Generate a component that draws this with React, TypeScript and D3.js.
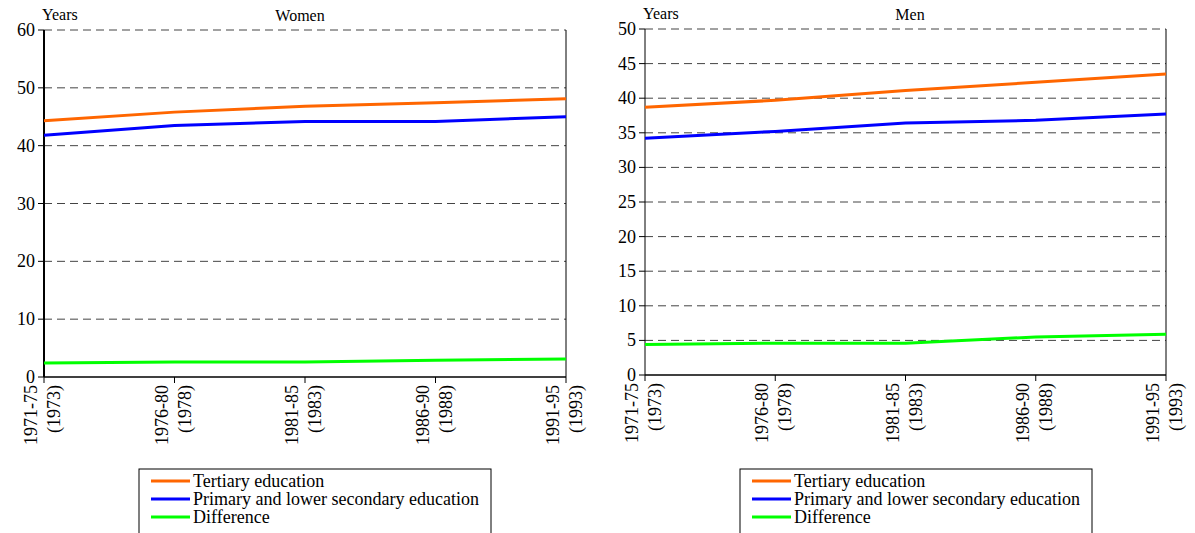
import React from "react";
import * as d3 from "d3";

const periods = ["1971-75", "1976-80", "1981-85", "1986-90", "1991-95"];
const midYears = ["(1973)", "(1978)", "(1983)", "(1988)", "(1993)"];

const womenTertiary = [44.3, 45.8, 46.8, 47.4, 48.1];
const womenPrimary = [41.8, 43.5, 44.2, 44.2, 45.0];
const womenDifference = [2.4, 2.6, 2.6, 2.9, 3.1];

const menTertiary = [38.7, 39.7, 41.1, 42.3, 43.5];
const menPrimary = [34.2, 35.2, 36.4, 36.8, 37.7];
const menDifference = [4.4, 4.6, 4.6, 5.5, 5.9];

const womenTicks = [0, 10, 20, 30, 40, 50, 60];
const menTicks = [0, 5, 10, 15, 20, 25, 30, 35, 40, 45, 50];

const seriesNames = ["Tertiary education", "Primary and lower secondary education", "Difference"];
const seriesColors = ["#FF6600", "#0000FF", "#00FF00"];

const FONT = "Liberation Serif, Times New Roman, DejaVu Serif, serif";
const ts: React.CSSProperties = { fontFamily: FONT };

type PanelProps = {
  title: string;
  titleX: number;
  x0: number;
  x1: number;
  yTop: number;
  yBottom: number;
  yMax: number;
  ticks: number[];
  series: number[][];
  axisWidth: number;
  legendX: number;
};

function Panel(p: PanelProps) {
  const x = d3.scalePoint<string>().domain(periods).range([p.x0, p.x1]);
  const y = d3.scaleLinear().domain([0, p.yMax]).range([p.yBottom, p.yTop]);
  const line = d3
    .line<number>()
    .x((_, i) => x(periods[i]) as number)
    .y((d) => y(d));

  return (
    <g fill="#000">
      {p.ticks
        .filter((t) => t !== 0)
        .map((t) => (
          <line
            key={"g" + t}
            x1={p.x0}
            x2={p.x1}
            y1={y(t)}
            y2={y(t)}
            stroke="#444"
            strokeWidth={1}
            strokeDasharray="8,5"
          />
        ))}
      <line x1={p.x1} x2={p.x1} y1={p.yTop} y2={p.yBottom} stroke="#000" strokeWidth={1} />
      <line x1={p.x0} x2={p.x1} y1={p.yBottom} y2={p.yBottom} stroke="#000" strokeWidth={1.5} />
      <line x1={p.x0} x2={p.x0} y1={p.yTop} y2={p.yBottom} stroke="#000" strokeWidth={p.axisWidth} />
      {p.ticks.map((t) => (
        <g key={"yt" + t}>
          <line x1={p.x0 - 6} x2={p.x0} y1={y(t)} y2={y(t)} stroke="#000" strokeWidth={1} />
          <text x={p.x0 - 9} y={y(t) + 6} textAnchor="end" fontSize={18} style={ts}>
            {t}
          </text>
        </g>
      ))}
      {periods.map((c, i) => {
        const xx = x(c) as number;
        return (
          <g key={"xt" + c}>
            <line x1={xx} x2={xx} y1={p.yBottom} y2={p.yBottom + 6} stroke="#000" strokeWidth={1} />
            <text
              transform={`translate(${xx - 7},${p.yBottom + 8}) rotate(-90)`}
              textAnchor="end"
              fontSize={18}
              style={ts}
            >
              {c}
            </text>
            <text
              transform={`translate(${xx + 16},${p.yBottom + 8}) rotate(-90)`}
              textAnchor="end"
              fontSize={18}
              style={ts}
            >
              {midYears[i]}
            </text>
          </g>
        );
      })}
      {p.series.map((s, i) => (
        <path key={"s" + i} d={line(s) || ""} fill="none" stroke={seriesColors[i]} strokeWidth={3} />
      ))}
      <text x={p.x0 - 2} y={p.yTop - 10} fontSize={16} style={ts}>
        Years
      </text>
      <text x={p.titleX} y={p.yTop - 9} fontSize={16} textAnchor="middle" style={ts}>
        {p.title}
      </text>
      <rect x={p.legendX} y={469} width={352} height={80} fill="#fff" stroke="#000" strokeWidth={1} />
      {seriesNames.map((n, i) => (
        <g key={"l" + i}>
          <line
            x1={p.legendX + 12}
            x2={p.legendX + 51}
            y1={481 + i * 18}
            y2={481 + i * 18}
            stroke={seriesColors[i]}
            strokeWidth={3}
          />
          <text x={p.legendX + 54} y={487 + i * 18} fontSize={18} style={ts}>
            {n}
          </text>
        </g>
      ))}
    </g>
  );
}

export default function App() {
  return (
    <svg
      width={1195}
      height={533}
      style={{ position: "absolute", left: 0, top: 0, background: "#fff", fontFamily: FONT }}
    >
      <rect x={0} y={0} width={1195} height={533} fill="#fff" />
      <Panel
        title="Women"
        titleX={300}
        x0={44}
        x1={566}
        yTop={30}
        yBottom={377}
        yMax={60}
        ticks={womenTicks}
        series={[womenTertiary, womenPrimary, womenDifference]}
        axisWidth={2}
        legendX={139}
      />
      <Panel
        title="Men"
        titleX={910}
        x0={645}
        x1={1166}
        yTop={29}
        yBottom={375}
        yMax={50}
        ticks={menTicks}
        series={[menTertiary, menPrimary, menDifference]}
        axisWidth={1}
        legendX={740}
      />
    </svg>
  );
}
